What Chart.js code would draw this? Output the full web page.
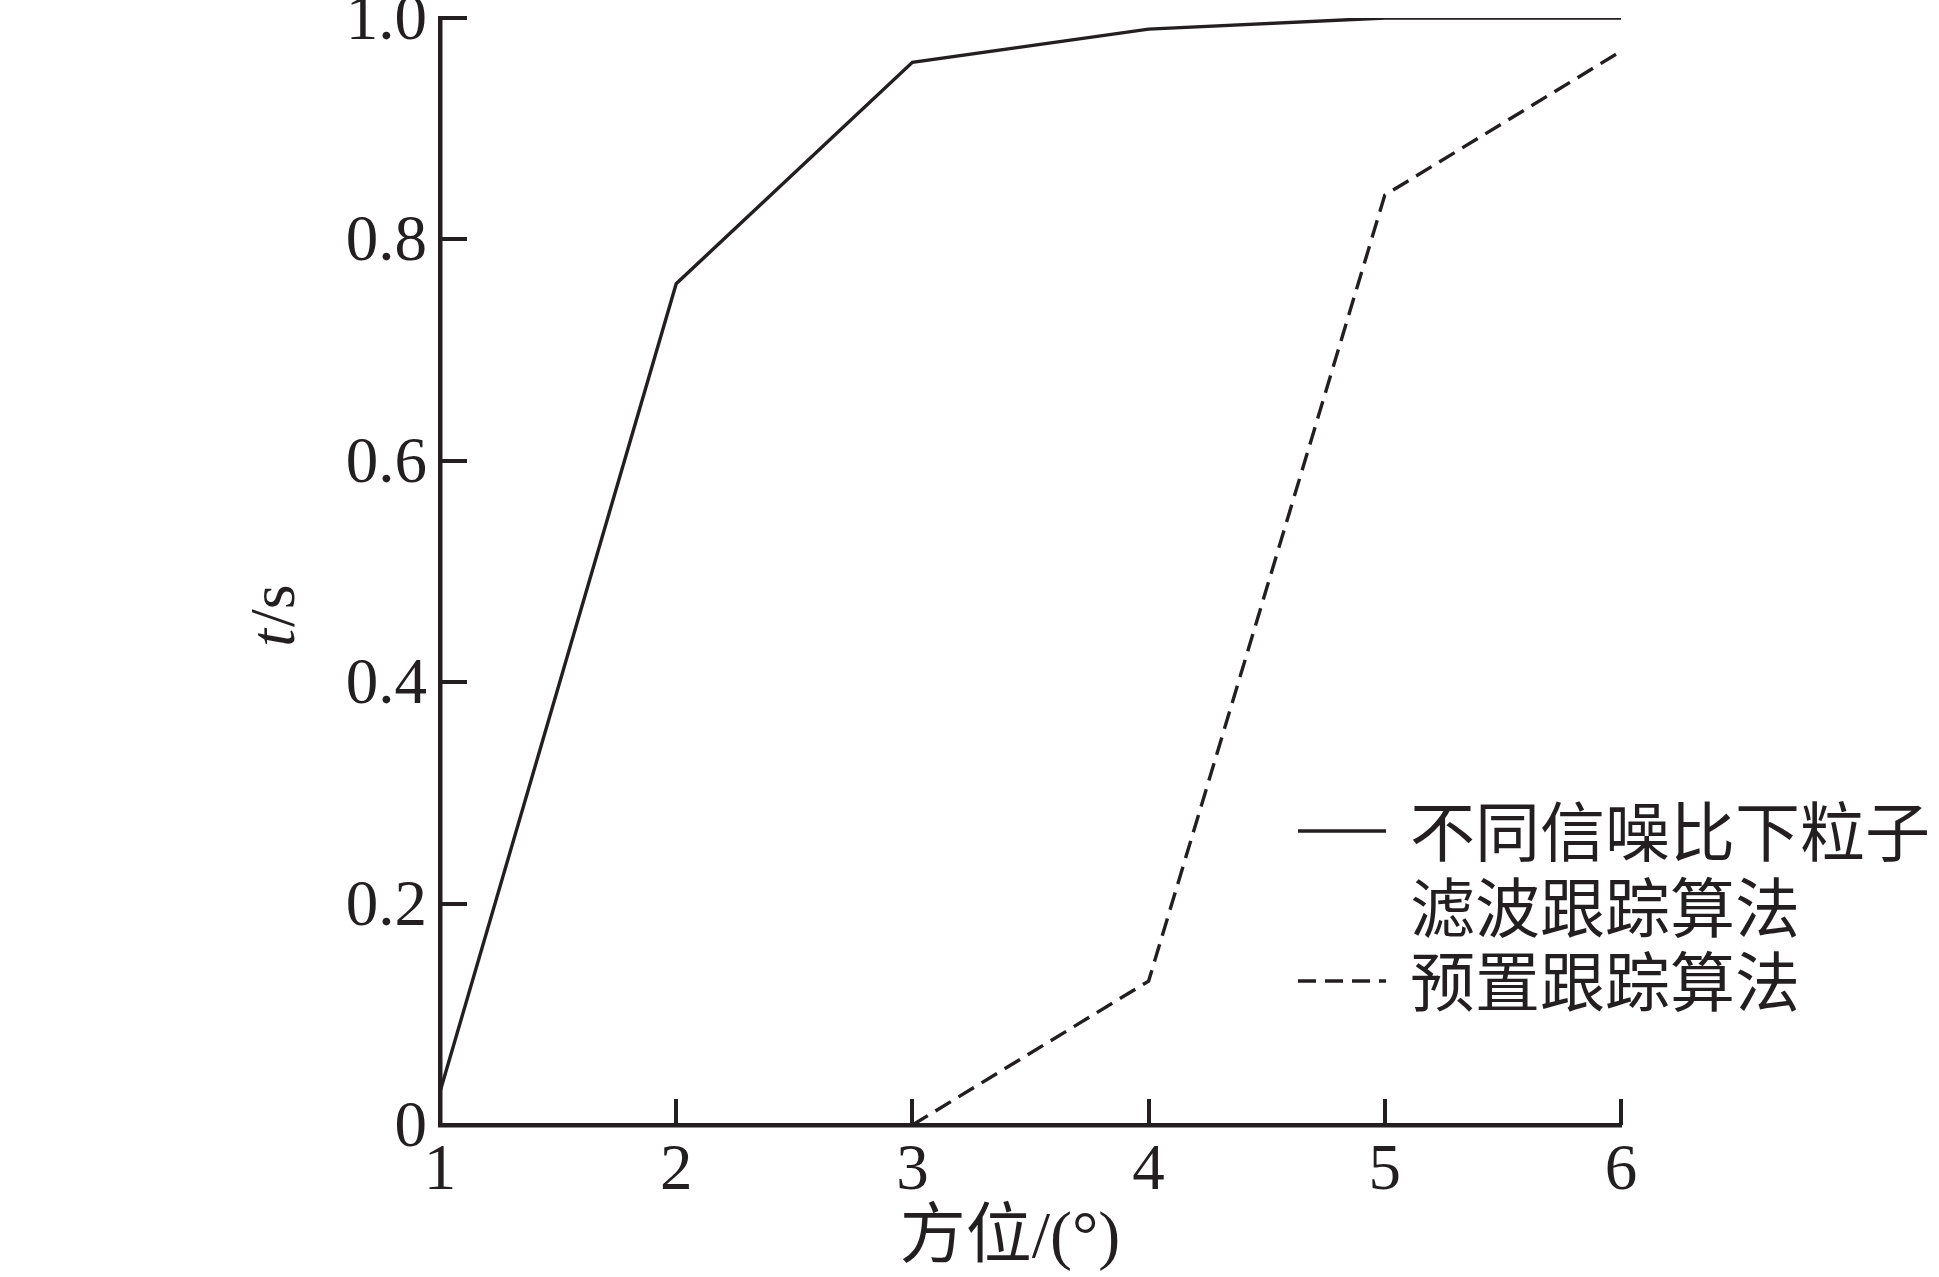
<!DOCTYPE html>
<html>
<head>
<meta charset="utf-8">
<script src="https://cdn.jsdelivr.net/npm/chart.js@4/dist/chart.umd.min.js"></script>
<style>
  html, body { margin: 0; padding: 0; background: #ffffff; }
  #wrap { width: 1939px; height: 1277px; }
</style>
</head>
<body>
<div id="wrap"><canvas id="c" width="1939" height="1277"></canvas></div>
<script>
// ---- data ----
const xValues = [1, 2, 3, 4, 5, 6];
const particleFilter = [0.03, 0.76, 0.96, 0.99, 1.0, 1.0];
const presetTracking = [null, null, 0.0, 0.13, 0.84, 0.97];
const seriesNames = [["不同信噪比下粒子", "滤波跟踪算法"], ["预置跟踪算法"]];
const xTitle = "方位/(°)";
const yTitleItalic = "t";
const yTitleRest = "/s";
const yTicks = [0, 0.2, 0.4, 0.6, 0.8, 1.0];
const xTicks = [1, 2, 3, 4, 5, 6];

const INK = '#231f20';
const SERIF = '"Liberation Serif", "Times New Roman", "Noto Sans CJK SC", serif';
const CJK = '"Noto Sans CJK SC", "Liberation Serif", sans-serif';

const toPts = (arr) => xValues.map((x, i) => ({ x: x, y: arr[i] }));

const inwardTicks = {
  id: 'inwardTicks',
  afterDraw(chart) {
    const ctx = chart.ctx;
    const xs = chart.scales.x, ys = chart.scales.y;
    const a = chart.chartArea;
    ctx.save();
    ctx.strokeStyle = INK;
    ctx.lineWidth = 4;
    ctx.lineCap = 'butt';
    xTicks.forEach(v => {
      const px = Math.round(xs.getPixelForValue(v));
      ctx.beginPath();
      ctx.moveTo(px, a.bottom);
      ctx.lineTo(px, a.bottom - 26);
      ctx.stroke();
    });
    yTicks.forEach(v => {
      const py = Math.round(ys.getPixelForValue(v));
      ctx.beginPath();
      ctx.moveTo(a.left, py);
      ctx.lineTo(a.left + 27, py);
      ctx.stroke();
    });
    ctx.restore();
  }
};

const titlesAndLegend = {
  id: 'titlesAndLegend',
  afterDraw(chart) {
    const ctx = chart.ctx;
    const a = chart.chartArea;
    ctx.save();
    ctx.fillStyle = INK;
    // x title
    ctx.font = '66px ' + SERIF;
    ctx.textAlign = 'center';
    ctx.textBaseline = 'middle';
    ctx.fillText(xTitle, a.left + 570, a.bottom + 115);
    // y title (rotated, italic t)
    ctx.save();
    ctx.translate(a.left - 163, (a.top + a.bottom) / 2 + 45);
    ctx.rotate(-Math.PI / 2);
    ctx.textBaseline = 'middle';
    ctx.textAlign = 'left';
    ctx.font = 'italic 64px ' + SERIF;
    const w1 = ctx.measureText(yTitleItalic).width;
    ctx.font = '64px ' + SERIF;
    const w2 = ctx.measureText(yTitleRest).width;
    const start = -(w1 + w2) / 2;
    ctx.font = 'italic 64px ' + SERIF;
    ctx.fillText(yTitleItalic, start, 0);
    ctx.font = '64px ' + SERIF;
    ctx.fillText(yTitleRest, start + w1 + 2, 0);
    ctx.restore();

    // legend
    const ds = chart.data.datasets;
    const sx0 = 1298, sx1 = 1386, tx = 1410;
    const rows = [
      { lineY: 831, texts: [[seriesNames[0][0], 831], [seriesNames[0][1], 907]] },
      { lineY: 981, texts: [[seriesNames[1][0], 981]] }
    ];
    rows.forEach((r, i) => {
      const d = ds[i];
      ctx.save();
      ctx.strokeStyle = d.borderColor;
      ctx.lineWidth = 3.5;
      ctx.setLineDash(d.borderDash || []);
      ctx.beginPath();
      ctx.moveTo(sx0, r.lineY);
      ctx.lineTo(sx1, r.lineY);
      ctx.stroke();
      ctx.restore();
      ctx.font = '65px ' + CJK;
      ctx.textAlign = 'left';
      ctx.textBaseline = 'middle';
      r.texts.forEach(t => ctx.fillText(t[0], tx, t[1]));
    });
    ctx.restore();
  }
};

new Chart(document.getElementById('c'), {
  type: 'line',
  data: {
    datasets: [
      {
        label: seriesNames[0].join(''),
        data: toPts(particleFilter),
        borderColor: INK,
        borderWidth: 3.4,
        pointRadius: 0,
        tension: 0,
        fill: false
      },
      {
        label: seriesNames[1].join(''),
        data: toPts(presetTracking),
        borderColor: INK,
        borderWidth: 3.4,
        borderDash: [18, 9],
        pointRadius: 0,
        tension: 0,
        fill: false,
        spanGaps: false
      }
    ]
  },
  options: {
    responsive: false,
    animation: false,
    devicePixelRatio: 1,
    layout: { padding: { left: 0, top: 18, right: 318, bottom: 0 } },
    plugins: { legend: { display: false }, tooltip: { enabled: false } },
    scales: {
      x: {
        type: 'linear',
        min: 1, max: 6,
        afterBuildTicks(s) { s.ticks = xTicks.map(v => ({ value: v })); },
        afterFit(s) { s.height = 152; s.paddingLeft = 0; s.paddingRight = 0; },
        grid: { display: false, drawTicks: false },
        border: { display: true, color: INK, width: 4.5 },
        ticks: {
          color: INK,
          font: { family: SERIF, size: 65 },
          padding: 8,
          maxRotation: 0,
          autoSkip: false,
          callback: (v) => String(v)
        }
      },
      y: {
        type: 'linear',
        min: 0, max: 1,
        afterBuildTicks(s) { s.ticks = yTicks.map(v => ({ value: v })); },
        afterFit(s) { s.width = 440; s.paddingTop = 0; s.paddingBottom = 0; },
        grid: { display: false, drawTicks: false },
        border: { display: true, color: INK, width: 4.5 },
        ticks: {
          color: INK,
          font: { family: SERIF, size: 65 },
          padding: 13,
          labelOffset: 4,
          autoSkip: false,
          callback: (v) => (v === 0 ? '0' : Number(v).toFixed(1))
        }
      }
    }
  },
  plugins: [inwardTicks, titlesAndLegend]
});
</script>
</body>
</html>
